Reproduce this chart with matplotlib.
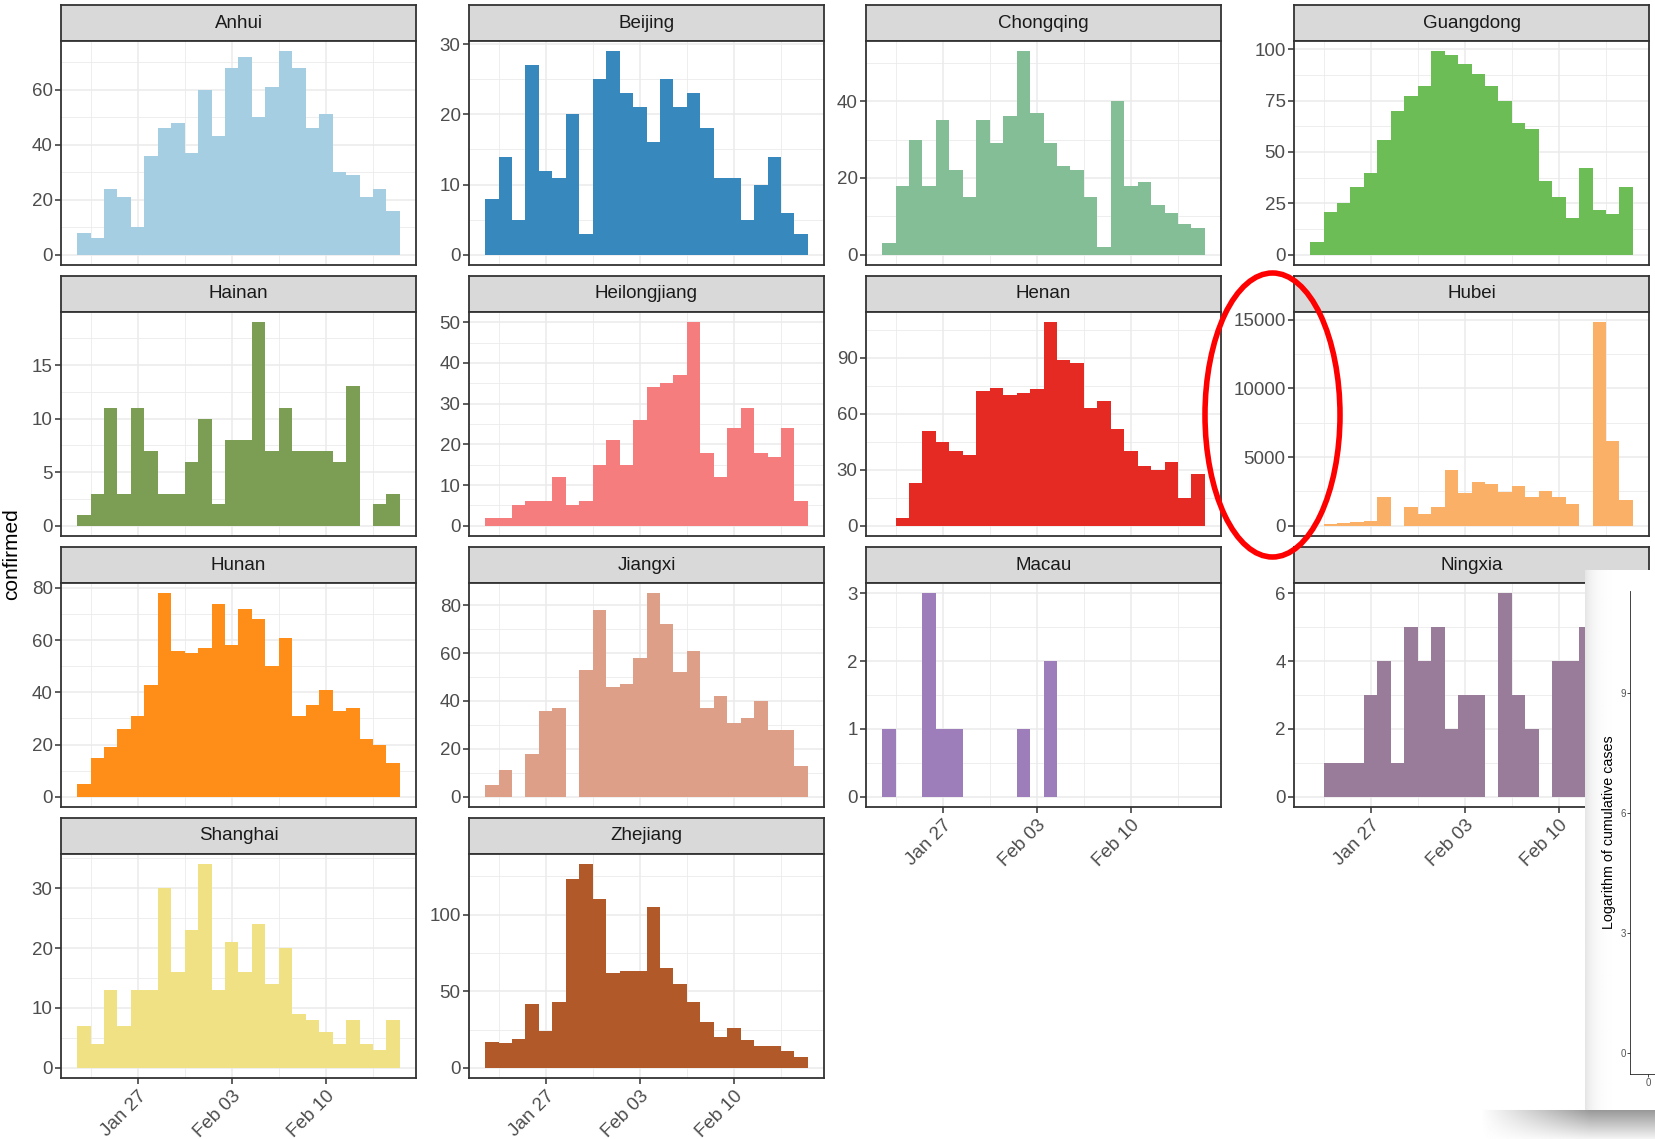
import numpy as np
import matplotlib
matplotlib.use('Agg')
import matplotlib.pyplot as plt
import matplotlib.dates as mdates
from matplotlib.colors import LinearSegmentedColormap
from matplotlib.patches import Ellipse
from matplotlib.ticker import MultipleLocator, FixedLocator, StrMethodFormatter

plt.rcParams['font.family'] = ['Liberation Sans', 'DejaVu Sans']

# daily confirmed cases, 24 days starting Jan 23
start_date = '2020-01-23'
provinces = ['Anhui', 'Beijing', 'Chongqing', 'Guangdong', 'Hainan', 'Heilongjiang', 'Henan',
             'Hubei', 'Hunan', 'Jiangxi', 'Macau', 'Ningxia', 'Shanghai', 'Zhejiang']

anhui = [8, 6, 24, 21, 10, 36, 46, 48, 37, 60, 43, 68, 72, 50, 61, 74, 68, 46, 51, 30, 29, 21, 24, 16]
beijing = [8, 14, 5, 27, 12, 11, 20, 3, 25, 29, 23, 21, 16, 25, 21, 23, 18, 11, 11, 5, 10, 14, 6, 3]
chongqing = [3, 18, 30, 18, 35, 22, 15, 35, 29, 36, 53, 37, 29, 23, 22, 15, 2, 40, 18, 19, 13, 11, 8, 7]
guangdong = [6, 21, 25, 33, 40, 56, 70, 77, 82, 99, 97, 93, 88, 82, 75, 64, 61, 36, 28, 18, 42, 22, 20, 33]
hainan = [1, 3, 11, 3, 11, 7, 3, 3, 6, 10, 2, 8, 8, 19, 7, 11, 7, 7, 7, 6, 13, 0, 2, 3]
heilongjiang = [2, 2, 5, 6, 6, 12, 5, 6, 15, 21, 15, 26, 34, 35, 37, 50, 18, 12, 24, 29, 18, 17, 24, 6]
henan = [0, 4, 23, 51, 45, 40, 38, 72, 74, 70, 71, 73, 109, 89, 87, 63, 67, 52, 40, 32, 30, 34, 15, 28]
hubei = [0, 100, 180, 260, 360, 2100, 0, 1380, 850, 1380, 4040, 2400, 3220, 3030, 2490, 2880,
         2110, 2540, 2110, 1620, 0, 14810, 6170, 1890]
hunan = [5, 15, 19, 26, 31, 43, 78, 56, 55, 57, 74, 58, 72, 68, 50, 61, 31, 35, 41, 33, 34, 22, 20, 13]
jiangxi = [5, 11, 0, 18, 36, 37, 0, 53, 78, 46, 47, 58, 85, 72, 52, 61, 37, 42, 31, 33, 40, 28, 28, 13]
macau = [1, 0, 0, 3, 1, 1, 0, 0, 0, 0, 1, 0, 2, 0, 0, 0, 0, 0, 0, 0, 0, 0, 0, 0]
ningxia = [0, 1, 1, 1, 3, 4, 1, 5, 4, 5, 2, 3, 3, 0, 6, 3, 2, 0, 4, 4, 5, 2, 1, 0]
shanghai = [7, 4, 13, 7, 13, 13, 30, 16, 23, 34, 13, 21, 16, 24, 14, 20, 9, 8, 6, 4, 8, 4, 3, 8]
zhejiang = [17, 16, 19, 42, 24, 43, 123, 133, 110, 62, 63, 63, 105, 65, 55, 43, 30, 20, 26, 18, 14, 14, 11, 7]

cases = [anhui, beijing, chongqing, guangdong, hainan, heilongjiang, henan,
         hubei, hunan, jiangxi, macau, ningxia, shanghai, zhejiang]
y_steps = [20, 10, 20, 25, 5, 10, 30, 5000, 20, 20, 1, 2, 10, 50]

tick_dates = ['2020-01-27', '2020-02-03', '2020-02-10']
tick_labels = ['Jan 27', 'Feb 03', 'Feb 10']

# Paired palette stretched to 14 colours
paired = ['#A6CEE3', '#1F78B4', '#B2DF8A', '#33A02C', '#FB9A99', '#E31A1C',
          '#FDBF6F', '#FF7F00', '#CAB2D6', '#6A3D9A', '#FFFF99', '#B15928']
cmap = LinearSegmentedColormap.from_list('paired14', paired)
colors = [cmap(i / (len(provinces) - 1)) for i in range(len(provinces))]

W, H = 1655, 1139
fig = plt.figure(figsize=(W / 100, H / 100), dpi=100)


def box(x0, y0, w, h):
    return [x0 / W, 1 - (y0 + h) / H, w / W, h / H]


col_left = [61, 469, 866, 1294]
row_top = [5, 276, 547, 818]
pw, sh, ph = 355, 36, 224

days = mdates.date2num(np.arange(np.datetime64(start_date), np.datetime64(start_date) + len(anhui)))
majors = mdates.date2num(np.array(tick_dates, dtype='datetime64[D]'))
minors = np.append(majors - 3.5, majors[-1] + 3.5)
span = days[-1] - days[0] + 1
xlim = (days[0] - 0.5 - 0.05 * span, days[-1] + 0.5 + 0.05 * span)

border = '#333333'
for i, (name, vals) in enumerate(zip(provinces, cases)):
    r, c = divmod(i, 4)
    left, top = col_left[c], row_top[r]

    sax = fig.add_axes(box(left, top, pw, sh))
    sax.set_facecolor('#D9D9D9')
    sax.set_xticks([])
    sax.set_yticks([])
    for sp in sax.spines.values():
        sp.set_color(border)
        sp.set_linewidth(1.3)
    sax.text(0.5, 0.5, name, ha='center', va='center', fontsize=13.5, color='#1A1A1A',
             transform=sax.transAxes)

    ax = fig.add_axes(box(left, top + sh, pw, ph))
    ax.bar(days, vals, width=1.0, color=colors[i], linewidth=0)
    ymax = max(vals)
    ax.set_ylim(-0.05 * ymax, 1.05 * ymax)
    ax.set_xlim(*xlim)
    ax.set_axisbelow(True)
    ax.yaxis.set_major_locator(MultipleLocator(y_steps[i]))
    ax.yaxis.set_minor_locator(MultipleLocator(y_steps[i] / 2))
    ax.yaxis.set_major_formatter(StrMethodFormatter('{x:.0f}'))
    ax.xaxis.set_major_locator(FixedLocator(majors))
    ax.xaxis.set_minor_locator(FixedLocator(minors))
    ax.grid(which='major', color='#EBEBEB', lw=1.1)
    ax.grid(which='minor', color='#EBEBEB', lw=0.6)
    for sp in ax.spines.values():
        sp.set_color(border)
        sp.set_linewidth(1.3)
    ax.tick_params(which='minor', length=0)
    ax.tick_params(axis='y', which='major', length=4, width=1.1, color=border,
                   labelsize=13.5, labelcolor='#4D4D4D', pad=2)
    bottom = r == 3 or (r == 2 and c >= 2)
    if bottom:
        ax.tick_params(axis='x', which='major', length=4, width=1.1, color=border,
                       labelsize=13.5, labelcolor='#4D4D4D', pad=3)
        ax.set_xticklabels(tick_labels, rotation=45, ha='right', va='top', rotation_mode='anchor')
    else:
        ax.tick_params(axis='x', which='major', length=0, labelbottom=False)

fig.text(12 / W, 1 - 554 / H, 'confirmed', rotation=90, ha='center', va='center', fontsize=15)

# cropped screenshot of another figure pasted at the lower right
shadow = fig.add_axes(box(1470, 1100, 190, 39), zorder=4)
yy, xx = np.mgrid[0:39, 0:190]
dark = np.clip(1 - (yy - 10) / 32, 0, 1) * np.clip((xx - 10) / 110, 0, 1) * (yy >= 10)
shadow.imshow(1 - 0.4 * dark, cmap='gray', vmin=0, vmax=1, aspect='auto')
shadow.axis('off')

panel = fig.add_axes(box(1585, 570, 75, 540), zorder=5)
gx = np.arange(75)
fade = 1 - 0.1 * np.exp(-gx / 8)
panel.imshow(np.tile(fade, (10, 1)), cmap='gray', vmin=0, vmax=1, aspect='auto')
panel.axis('off')

inset = fig.add_axes(box(1630, 591, 70, 483), zorder=6)
inset.patch.set_alpha(0)
inset.set_ylim(-21 / 40, (1053 - 591) / 40)
inset.set_xlim(-0.6, 1.73)
inset.set_yticks([0, 3, 6, 9])
inset.set_xticks([0])
for side in ['top', 'right']:
    inset.spines[side].set_visible(False)
for side in ['left', 'bottom']:
    inset.spines[side].set_linewidth(0.6)
    inset.spines[side].set_color('#222222')
inset.tick_params(length=2, width=0.5, labelsize=7, labelcolor='#555555', pad=1)
inset.set_ylabel('Logarithm of cumulative cases', fontsize=10.3, labelpad=3)

fig.add_artist(Ellipse((1272.5 / W, 1 - 415 / H), 135 / W, 284 / H, transform=fig.transFigure,
                       fill=False, edgecolor='#FF0000', linewidth=4, zorder=10))

fig.savefig('out.png', dpi=100)
